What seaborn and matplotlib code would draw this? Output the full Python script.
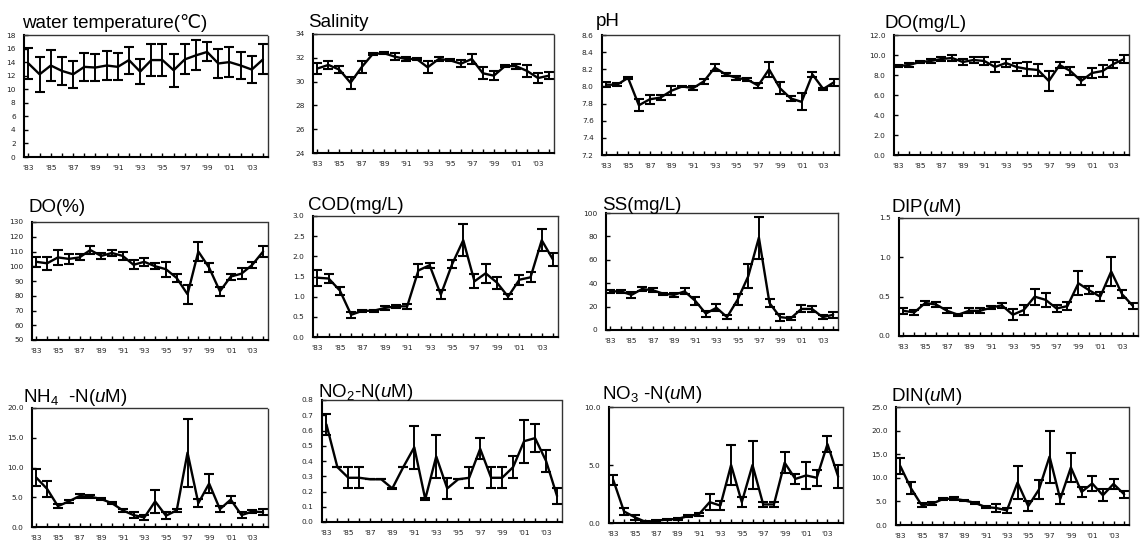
import numpy as np
import pandas as pd
import matplotlib
matplotlib.use("Agg")
import matplotlib.pyplot as plt
import seaborn as sns
from matplotlib.ticker import MultipleLocator, FixedLocator, FormatStrFormatter

# ---------------- data ----------------
years = list(range(1983, 2005))
xtick_years = list(range(1983, 2004, 2))
xtick_labels = ["'83", "'85", "'87", "'89", "'91", "'93", "'95", "'97", "'99", "'01", "'03"]

wt_mean = [13.8, 12.2, 13.5, 12.7, 12.2, 13.3, 13.2, 13.5, 13.3, 14.3, 12.6, 14.3, 14.3, 12.8, 14.4, 15.0, 15.5, 13.8, 14.0, 13.5, 12.9, 14.4]
wt_sd   = [2.3, 2.6, 2.3, 2.1, 2.0, 2.1, 2.0, 2.1, 2.0, 2.0, 1.8, 2.3, 2.3, 2.4, 2.2, 2.2, 1.4, 2.1, 2.2, 2.0, 2.0, 2.2]

sal_mean = [31.1, 31.4, 31.0, 29.9, 31.2, 32.3, 32.4, 32.1, 31.9, 31.9, 31.2, 31.9, 31.8, 31.5, 31.9, 30.7, 30.5, 31.3, 31.3, 30.9, 30.3, 30.5]
sal_sd   = [0.5, 0.3, 0.3, 0.5, 0.5, 0.1, 0.1, 0.3, 0.2, 0.1, 0.5, 0.2, 0.1, 0.3, 0.4, 0.5, 0.4, 0.1, 0.2, 0.5, 0.4, 0.3]

ph_mean = [8.02, 8.02, 8.10, 7.78, 7.85, 7.87, 7.95, 8.00, 7.98, 8.06, 8.22, 8.14, 8.10, 8.08, 8.01, 8.20, 7.98, 7.86, 7.82, 8.14, 7.97, 8.05]
ph_sd   = [0.03, 0.02, 0.01, 0.07, 0.05, 0.03, 0.05, 0.01, 0.02, 0.03, 0.04, 0.02, 0.02, 0.02, 0.03, 0.09, 0.07, 0.03, 0.10, 0.03, 0.01, 0.04]

domg_mean = [8.9, 9.0, 9.3, 9.4, 9.6, 9.7, 9.3, 9.5, 9.4, 8.8, 9.2, 8.8, 8.6, 8.5, 7.4, 9.0, 8.4, 7.4, 8.2, 8.4, 9.1, 9.6]
domg_sd   = [0.1, 0.2, 0.1, 0.2, 0.2, 0.3, 0.3, 0.3, 0.4, 0.5, 0.4, 0.4, 0.7, 0.6, 1.0, 0.3, 0.4, 0.4, 0.5, 0.6, 0.4, 0.4]

dopct_mean = [103, 102, 106, 105, 106, 111, 107, 109, 107, 101, 103, 100, 98, 92, 81, 110, 99, 83, 93, 95, 101, 110]
dopct_sd   = [3.5, 4.5, 5.0, 3.5, 2.0, 3.0, 2.0, 2.0, 3.0, 3.0, 2.5, 2.0, 5.0, 3.0, 6.5, 6.5, 3.0, 3.0, 2.0, 3.5, 2.0, 3.5]

cod_mean = [1.47, 1.45, 1.15, 0.55, 0.65, 0.65, 0.72, 0.76, 0.76, 1.65, 1.78, 1.05, 1.80, 2.40, 1.38, 1.58, 1.35, 1.00, 1.42, 1.48, 2.40, 1.92]
cod_sd   = [0.20, 0.12, 0.10, 0.08, 0.03, 0.03, 0.05, 0.04, 0.06, 0.15, 0.06, 0.12, 0.10, 0.40, 0.17, 0.24, 0.15, 0.07, 0.12, 0.12, 0.27, 0.17]

ss_mean = [33, 33, 30, 35, 34, 31, 30, 33, 25, 14, 19, 11, 26, 46, 79, 23, 11, 10, 18, 18, 11, 13]
ss_sd   = [1.5, 1.0, 2.5, 1.5, 1.5, 1.0, 1.5, 2.5, 3.5, 2.5, 3.0, 2.0, 5.0, 10.5, 18.0, 3.5, 3.0, 1.5, 3.0, 2.5, 1.5, 2.5]

dip_mean = [0.32, 0.30, 0.42, 0.40, 0.32, 0.27, 0.32, 0.32, 0.36, 0.39, 0.27, 0.33, 0.50, 0.46, 0.35, 0.38, 0.67, 0.58, 0.50, 0.82, 0.53, 0.38]
dip_sd   = [0.04, 0.03, 0.02, 0.03, 0.03, 0.01, 0.03, 0.03, 0.02, 0.03, 0.07, 0.06, 0.10, 0.09, 0.05, 0.05, 0.15, 0.05, 0.06, 0.19, 0.05, 0.04]

nh4_mean = [8.3, 6.4, 3.5, 4.3, 5.2, 5.1, 4.7, 4.0, 2.8, 2.0, 1.6, 4.3, 1.9, 2.8, 12.5, 4.0, 7.3, 3.0, 4.6, 2.0, 2.6, 2.5]
nh4_sd   = [1.4, 1.4, 0.3, 0.3, 0.3, 0.2, 0.2, 0.2, 0.3, 0.5, 0.4, 1.9, 0.6, 0.3, 5.7, 0.7, 1.6, 0.5, 0.6, 0.45, 0.2, 0.55]

no2_mean = [0.64, 0.36, 0.29, 0.29, 0.28, 0.28, 0.22, 0.36, 0.49, 0.15, 0.43, 0.22, 0.28, 0.29, 0.48, 0.29, 0.29, 0.36, 0.53, 0.55, 0.40, 0.17]
no2_sd   = [0.07, 0.00, 0.07, 0.07, 0.00, 0.00, 0.005, 0.00, 0.14, 0.005, 0.14, 0.07, 0.00, 0.07, 0.07, 0.07, 0.07, 0.07, 0.14, 0.09, 0.07, 0.05]

no3_mean = [3.7, 1.0, 0.5, 0.1, 0.2, 0.3, 0.35, 0.6, 0.75, 1.8, 1.5, 5.0, 1.8, 5.0, 1.6, 1.6, 5.2, 3.8, 4.1, 3.9, 6.8, 4.0]
no3_sd   = [0.45, 0.3, 0.2, 0.05, 0.05, 0.05, 0.05, 0.1, 0.15, 0.7, 0.4, 1.7, 0.4, 2.1, 0.2, 0.2, 0.9, 0.4, 1.2, 0.7, 0.7, 1.0]

din_mean = [12.5, 7.8, 4.2, 4.5, 5.5, 5.6, 5.2, 4.7, 3.8, 3.6, 3.1, 9.0, 4.0, 7.5, 14.5, 5.5, 12.2, 7.0, 8.8, 6.3, 8.7, 6.5]
din_sd   = [1.8, 1.3, 0.4, 0.3, 0.3, 0.3, 0.1, 0.2, 0.2, 0.9, 0.5, 3.5, 1.1, 2.0, 5.5, 1.0, 3.0, 1.0, 1.5, 1.3, 1.0, 0.8]

titles = ["water temperature(\u2103)", "Salinity", "pH", "DO(mg/L)",
          "DO(%)", "COD(mg/L)", "SS(mg/L)", r"DIP($\mathit{u}$M)",
          r"NH$_4$  -N($\mathit{u}$M)", r"NO$_2$-N($\mathit{u}$M)",
          r"NO$_3$ -N($\mathit{u}$M)", r"DIN($\mathit{u}$M)"]
means = [wt_mean, sal_mean, ph_mean, domg_mean, dopct_mean, cod_mean, ss_mean,
         dip_mean, nh4_mean, no2_mean, no3_mean, din_mean]
sds = [wt_sd, sal_sd, ph_sd, domg_sd, dopct_sd, cod_sd, ss_sd,
       dip_sd, nh4_sd, no2_sd, no3_sd, din_sd]
ylims = [(0, 18), (24, 34), (7.2, 8.6), (0, 12), (50, 130), (0, 3), (0, 100),
         (0, 1.5), (0, 20), (0, 0.8), (0, 10), (0, 25)]
ysteps = [2, 2, 0.2, 2, 10, 0.5, 20, 0.5, 5, 0.1, 5, 5]
yfmts = ["%d", "%d", "%.1f", "%.1f", "%d", "%.1f", "%d", "%.1f", "%.1f", "%.1f", "%.1f", "%.1f"]

# ---------------- layout (pixels: left, top, right, bottom ; title x, baseline) ----------------
W, H = 1141, 545
rects = [(24, 35, 268, 157), (313, 34, 554, 153), (602, 35, 839, 155), (894, 35, 1129, 155),
         (32, 222, 268, 340), (313, 216, 558, 337), (606, 213, 838, 330), (899, 218, 1138, 336),
         (32, 408, 268, 527), (322, 400, 562, 522), (609, 407, 843, 523), (896, 407, 1129, 525)]
title_pos = [(22, 28), (308, 27), (596, 26), (884, 28),
             (29, 212), (308, 210), (602, 210), (891, 212),
             (23, 402), (318, 397), (602, 399), (891, 401)]

sns.set_style("white")
plt.rcParams["font.family"] = ["Liberation Sans", "DejaVu Sans"]
plt.rcParams["mathtext.fontset"] = "custom"
plt.rcParams["mathtext.rm"] = "Liberation Sans"
plt.rcParams["mathtext.it"] = "Liberation Sans:italic"
plt.rcParams["mathtext.default"] = "regular"

fig = plt.figure(figsize=(W / 100, H / 100), dpi=100)
fig.patch.set_facecolor("white")

for i in range(12):
    l, t, r, b = rects[i]
    ax = fig.add_axes([l / W, 1 - b / H, (r - l) / W, (b - t) / H])
    df = pd.DataFrame({"year": years, "value": means[i]})
    sns.lineplot(data=df, x="year", y="value", ax=ax, color="black", lw=1.7)
    ax.errorbar(years, means[i], yerr=sds[i], fmt="none", ecolor="black",
                elinewidth=1.4, capsize=3.8, capthick=1.5)
    ax.set_xlim(1982.6, 2004.45)
    ax.set_ylim(*ylims[i])
    ax.yaxis.set_major_locator(MultipleLocator(ysteps[i]))
    ax.yaxis.set_major_formatter(FormatStrFormatter(yfmts[i]))
    ax.xaxis.set_major_locator(FixedLocator(xtick_years))
    ax.set_xticklabels(xtick_labels)
    ax.xaxis.set_minor_locator(FixedLocator(years))
    ax.set_xlabel("")
    ax.set_ylabel("")
    ax.tick_params(axis="both", which="both", direction="in", length=3, width=1,
                   colors="black", labelsize=5.3, pad=6)
    ax.tick_params(axis="y", which="both", left=True)
    ax.tick_params(axis="x", which="both", bottom=True)
    for lab in ax.get_xticklabels() + ax.get_yticklabels():
        lab.set_family("DejaVu Sans")
        lab.set_color("#222222")
    for s in ["left", "bottom"]:
        ax.spines[s].set_color("black")
        ax.spines[s].set_linewidth(1.5)
    for s in ["top", "right"]:
        ax.spines[s].set_color("#333333")
        ax.spines[s].set_linewidth(1.0)
        ax.spines[s].set_linestyle((0, (1, 1)))
    tx, ty = title_pos[i]
    fig.text(tx / W, 1 - ty / H, titles[i], fontsize=13.5, ha="left", va="baseline",
             color="black")

fig.savefig("out.png", dpi=100, facecolor="white")
